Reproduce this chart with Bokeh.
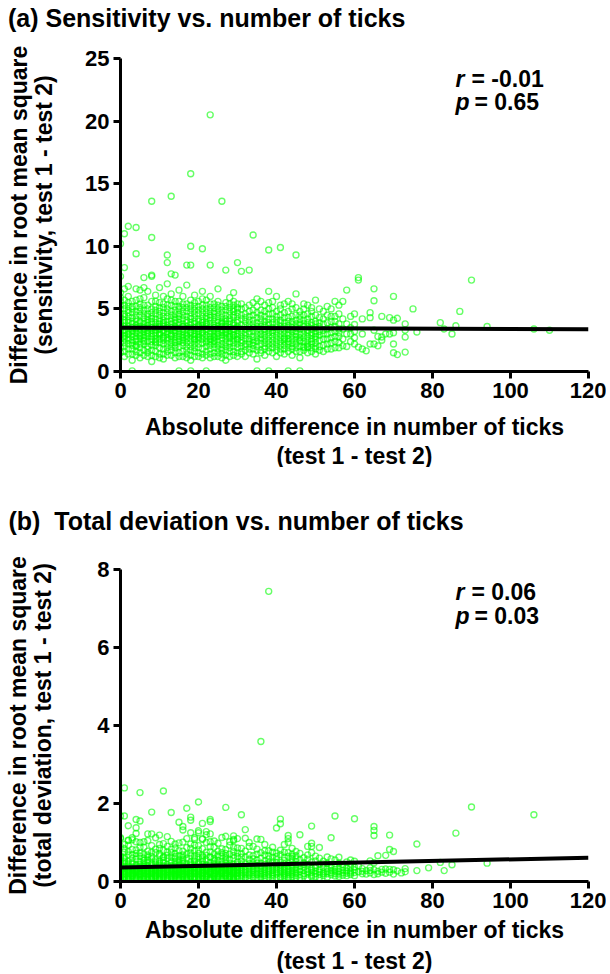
from bokeh.plotting import figure
from bokeh.models import Range1d, FixedTicker, Label, ColumnDataSource, Title, Div
from bokeh.layouts import column
from bokeh.embed import file_html
from bokeh.resources import INLINE

FONT = "Liberation Sans"

# ---------------- data ----------------
x_ticks = [0, 20, 40, 60, 80, 100, 120]
a_y_ticks = [0, 5, 10, 15, 20, 25]
b_y_ticks = [0, 2, 4, 6, 8]

# panel (a): (x, [y values at that x])
a_cols = [
    (0, [1.5, 2.3, 2.9, 3.4, 3.8, 4.3, 5.0, 5.6, 6.3, 7.6, 10.2]),
    (1, [1.2, 2.0, 2.6, 3.1, 3.6, 4.1, 4.6, 5.3, 6.6, 2.9, 11.0, 8.3]),
    (2, [1.4, 2.2, 2.7, 3.3, 3.9, 4.4, 4.9, 5.5, 6.8, 3.0, 11.6]),
    (3, [0.9, 1.8, 2.5, 3.0, 3.5, 4.0, 4.7, 5.2, 3.2, 2.1, 0.05]),
    (4, [1.6, 2.4, 2.8, 3.4, 3.7, 4.2, 4.8, 5.7, 6.6, 2.0, 11.5, 9.4]),
    (5, [1.1, 1.9, 2.6, 3.1, 3.6, 4.5, 5.1, 5.4, 3.9, 2.9]),
    (6, [1.3, 2.2, 2.7, 3.2, 3.8, 4.3, 4.9, 5.9, 3.5, 2.5, 7.5]),
    (7, [1.5, 2.0, 2.8, 3.3, 3.7, 4.1, 4.6, 5.3, 6.4, 3.0]),
    (8, [0.8, 1.7, 2.4, 3.0, 3.5, 4.0, 4.4, 5.0, 7.6, 2.8, 13.6, 10.7, 7.7]),
    (9, [1.2, 2.1, 2.6, 3.3, 3.9, 4.6, 5.2, 6.1, 3.6, 2.4]),
    (10, [1.4, 2.3, 2.9, 3.4, 3.8, 4.2, 4.8, 5.5, 6.7, 3.1]),
    (11, [1.0, 1.8, 2.5, 3.1, 3.6, 4.1, 4.7, 5.1, 2.8, 3.9]),
    (12, [1.6, 2.2, 2.7, 3.2, 3.7, 4.4, 5.0, 5.8, 7.0, 3.4, 9.3, 8.7]),
    (13, [1.3, 2.0, 2.6, 3.0, 3.5, 4.0, 4.5, 5.3, 6.2, 2.9, 14.0, 7.8]),
    (14, [1.1, 1.9, 2.5, 3.3, 3.9, 4.3, 4.9, 5.6, 3.6, 2.3, 7.7]),
    (15, [1.5, 2.4, 2.8, 3.2, 3.7, 4.2, 4.6, 5.2, 6.5, 3.0, 0.05]),
    (16, [1.2, 2.1, 2.7, 3.4, 3.8, 4.5, 5.1, 6.0, 2.5, 3.6]),
    (17, [1.4, 2.0, 2.6, 3.1, 3.6, 4.1, 4.8, 5.4, 6.9, 2.9, 8.5]),
    (18, [0.9, 1.7, 2.3, 2.9, 3.5, 3.9, 4.4, 5.0, 5.7, 3.2, 15.8, 10.0, 8.5, 0.05]),
    (19, [1.6, 2.2, 2.8, 3.3, 3.8, 4.3, 4.9, 5.5, 6.1, 2.6]),
    (20, [1.2, 1.9, 2.5, 3.0, 3.4, 4.0, 4.6, 5.2, 3.7, 2.8]),
    (21, [1.4, 2.3, 2.9, 3.5, 3.9, 4.4, 5.0, 5.8, 6.4, 3.1, 9.8]),
    (22, [1.3, 2.0, 2.6, 3.2, 3.6, 4.2, 4.7, 5.3, 2.4, 3.8, 0.05]),
    (23, [1.1, 1.8, 2.4, 3.0, 3.5, 4.1, 4.5, 5.1, 6.0, 2.8, 20.5, 8.5]),
    (24, [1.5, 2.2, 2.7, 3.3, 3.7, 4.3, 4.8, 5.4, 3.0, 2.5]),
    (25, [1.2, 2.1, 2.8, 3.4, 3.9, 4.4, 5.0, 5.6, 6.6, 3.1]),
    (26, [1.4, 1.9, 2.5, 3.1, 3.6, 4.0, 4.6, 5.2, 2.9, 3.8, 13.6]),
    (27, [0.9, 1.7, 2.3, 2.9, 3.4, 3.8, 4.2, 4.9, 5.5, 3.2, 8.1]),
    (28, [1.6, 2.4, 3.0, 3.5, 4.0, 4.5, 5.1, 5.9, 2.7, 3.3]),
    (29, [1.3, 2.0, 2.6, 3.2, 3.7, 4.3, 4.8, 5.3, 6.3, 2.9]),
    (30, [1.5, 2.2, 2.8, 3.3, 3.9, 4.4, 5.0, 5.4, 3.6, 2.5, 8.7]),
    (31, [1.6, 2.5, 3.1, 3.7, 4.2, 5.0, 8.0]),
    (32, [1.2, 2.2, 2.9, 3.4, 4.0, 4.6]),
    (33, [1.8, 2.6, 3.2, 3.8, 4.4, 5.3, 8.1]),
    (34, [1.4, 2.1, 2.8, 3.5, 4.1, 4.9, 10.9]),
    (35, [1.0, 2.4, 3.0, 3.6, 4.3, 5.2, 0.05]),
    (36, [1.7, 2.7, 3.3, 3.9, 4.5, 5.6]),
    (37, [1.3, 2.3, 2.9, 3.4, 4.0, 4.8]),
    (38, [1.9, 2.5, 3.1, 3.7, 4.2, 5.5, 6.4, 9.7, 0.05]),
    (39, [1.5, 2.2, 2.8, 3.5, 4.6, 5.1]),
    (40, [1.2, 2.6, 3.2, 3.8, 4.4, 6.0]),
    (41, [1.8, 2.4, 3.0, 3.6, 4.1, 5.3, 9.9]),
    (42, [1.4, 2.1, 2.7, 3.3, 3.9, 4.7]),
    (43, [1.9, 2.6, 3.1, 3.7, 4.3, 5.6, 0.05]),
    (44, [1.3, 2.3, 2.9, 3.5, 4.0, 5.0]),
    (45, [1.6, 2.5, 3.2, 3.8, 4.5, 6.2, 9.3]),
    (46, [1.1, 2.0, 2.7, 3.4, 4.2, 4.8, 0.05]),
    (47, [1.7, 2.4, 3.0, 3.6, 4.1, 5.4]),
    (48, [1.5, 2.2, 2.8, 3.3, 3.9, 4.6]),
    (49, [1.9, 2.6, 3.1, 3.7, 4.4, 5.1]),
    (50, [1.4, 2.3, 3.0, 3.5, 4.0, 5.7]),
    (51, [2.0, 2.9, 3.6, 4.3]),
    (52, [1.6, 2.6, 3.3, 4.8]),
    (53, [2.2, 3.0, 3.9, 5.2]),
    (54, [1.8, 2.7, 3.5, 4.4]),
    (55, [2.4, 3.2, 4.0, 5.6]),
    (56, [1.9, 2.8, 3.4, 4.6]),
    (57, [5.6, 2.05]),
    (58, [6.5]),
    (59, [3.0, 2.4]),
    (60, [3.75, 2.2]),
    (61, [7.5, 7.3, 1.95]),
    (62, [4.2, 3.0, 1.8]),
    (63, [1.65]),
    (64, [4.7, 4.3, 2.2]),
    (65, [6.6, 5.65, 3.3, 2.2]),
    (66, [2.8, 2.05]),
    (67, [4.4, 2.75, 2.5]),
    (68, [3.0]),
    (69, [4.3, 3.0]),
    (70, [6.0, 4.1, 3.1, 2.2, 1.5]),
    (71, [4.25, 1.35]),
    (73, [3.8, 3.3, 2.75, 1.55]),
    (75, [5.0]),
    (76, [3.15]),
    (82, [3.9]),
    (83, [3.4]),
    (85, [3.0]),
    (86, [3.65]),
    (87, [4.8]),
    (90, [7.3]),
    (94, [3.6]),
    (106, [3.4]),
    (110, [3.3]),
]

# panel (a), extra points of the dense cloud
a_cols_extra = [
    (0, [1.9, 2.6, 3.1, 3.6, 4.0, 4.6, 5.3, 5.9]),
    (1, [1.6, 2.3, 2.8, 3.3, 3.9, 4.4, 5.0, 5.7]),
    (2, [1.8, 2.5, 3.0, 3.6, 4.1, 4.7, 5.2, 6.0]),
    (3, [1.4, 2.3, 2.8, 3.3, 3.8, 4.3, 5.0, 5.6]),
    (4, [1.3, 2.1, 2.6, 3.1, 3.5, 4.0, 4.5, 5.2]),
    (5, [1.5, 2.2, 2.8, 3.4, 4.0, 4.8, 5.8, 6.5]),
    (6, [1.7, 2.4, 2.9, 3.4, 4.0, 4.6, 5.3, 6.7]),
    (7, [1.2, 1.8, 2.4, 3.1, 3.5, 3.9, 4.4, 5.0]),
    (8, [1.3, 2.1, 2.6, 3.3, 3.8, 4.2, 4.7, 5.6]),
    (9, [1.6, 2.3, 2.9, 3.1, 3.5, 4.2, 4.9, 5.6]),
    (10, [1.1, 1.9, 2.6, 3.0, 3.6, 4.0, 4.5, 5.1]),
    (11, [1.4, 2.2, 2.7, 3.3, 3.8, 4.4, 5.4, 6.0]),
    (12, [1.3, 1.9, 2.5, 3.0, 3.5, 4.0, 4.7, 5.3]),
    (13, [1.7, 2.3, 2.8, 3.3, 3.8, 4.2, 4.8, 5.7]),
    (14, [1.5, 2.1, 2.8, 3.1, 3.5, 4.1, 4.6, 5.2]),
    (15, [1.2, 2.0, 2.6, 3.4, 3.9, 4.4, 5.0, 5.6]),
    (16, [1.6, 2.3, 2.9, 3.2, 3.6, 4.2, 4.8, 5.4]),
    (17, [1.1, 1.7, 2.3, 2.8, 3.4, 3.9, 4.4, 5.1]),
    (18, [1.3, 2.0, 2.6, 3.1, 3.7, 4.2, 4.7, 5.3]),
    (19, [1.2, 1.9, 2.5, 3.0, 3.5, 4.0, 4.6, 5.2]),
    (20, [1.5, 2.2, 2.7, 3.2, 3.6, 4.2, 4.9, 5.6]),
    (21, [1.1, 1.8, 2.6, 3.2, 3.7, 4.1, 4.7, 5.3]),
    (22, [1.6, 2.3, 2.9, 3.4, 3.9, 4.4, 5.0, 5.7]),
    (23, [1.4, 2.1, 2.6, 3.2, 3.8, 4.3, 4.8, 5.4]),
    (24, [1.2, 1.9, 2.4, 2.8, 3.5, 4.0, 4.6, 5.1]),
    (25, [1.5, 1.8, 2.4, 3.0, 3.6, 4.1, 4.7, 5.3]),
    (26, [1.1, 1.7, 2.2, 2.7, 3.3, 3.9, 4.3, 4.9]),
    (27, [1.3, 2.0, 2.6, 3.1, 3.6, 4.0, 4.5, 5.2]),
    (28, [1.2, 1.9, 2.2, 2.8, 3.8, 4.2, 4.8, 5.4]),
    (29, [1.6, 2.3, 2.9, 3.4, 3.9, 4.5, 5.0, 5.6]),
    (30, [1.2, 1.9, 2.6, 3.0, 3.5, 4.1, 4.7, 5.1]),
    (31, [2.0, 2.8, 3.4]),
    (32, [1.7, 2.6, 3.7]),
    (33, [2.2, 3.0, 3.5]),
    (34, [1.8, 2.5, 3.2]),
    (35, [2.0, 2.7, 3.3]),
    (36, [2.2, 3.0, 3.6]),
    (37, [1.8, 2.6, 3.7]),
    (38, [2.2, 2.8, 3.4]),
    (39, [1.9, 3.1, 3.9]),
    (40, [2.0, 2.9, 3.5]),
    (41, [2.1, 2.7, 3.3]),
    (42, [1.8, 2.4, 3.0]),
    (43, [2.2, 2.9, 3.4]),
    (44, [2.0, 2.6, 3.2]),
    (45, [1.9, 2.8, 3.5]),
    (46, [2.4, 3.0, 3.7]),
    (47, [2.0, 2.7, 3.3]),
    (48, [1.9, 2.5, 3.6]),
    (49, [2.2, 2.9, 3.4]),
    (50, [2.0, 2.6, 3.2]),
]

# panel (a), more points where the cloud thins out (x 31-60)
a_cols_extra2 = [
    (31, [1.4, 2.3, 4.5, 5.4]),
    (32, [2.0, 3.1, 4.3, 5.1]),
    (33, [1.5, 2.4, 4.1, 4.8]),
    (34, [2.3, 3.8, 4.5, 5.5]),
    (35, [1.7, 3.9, 4.7, 5.8]),
    (36, [1.5, 2.5, 4.2, 4.9]),
    (37, [2.0, 3.2, 4.4, 5.3]),
    (38, [1.6, 3.9, 4.6, 5.0]),
    (39, [2.5, 3.3, 4.2, 5.6]),
    (40, [1.7, 2.3, 4.1, 4.8]),
    (41, [1.5, 3.9, 4.5, 5.0]),
    (42, [2.6, 3.6, 4.3, 5.4]),
    (43, [1.6, 2.4, 4.0, 4.8]),
    (44, [1.8, 3.8, 4.4, 5.4]),
    (45, [2.2, 3.0, 4.1, 5.1]),
    (46, [1.6, 2.5, 3.9, 4.5]),
    (47, [1.9, 3.8, 4.5, 5.0]),
    (48, [2.0, 3.1, 4.2, 5.3]),
    (49, [1.6, 2.4, 3.9, 4.8]),
    (50, [1.8, 2.8, 3.8, 4.5]),
    (51, [1.7, 2.5, 3.2, 3.9, 5.0]),
    (52, [2.1, 3.0, 3.8, 4.2]),
    (53, [1.8, 2.6, 3.4, 4.5]),
    (54, [2.3, 3.1, 4.0, 5.0]),
    (55, [1.9, 2.8, 3.6, 4.4]),
    (56, [2.3, 3.1, 3.8, 5.3]),
    (57, [2.6, 3.4, 4.2]),
    (58, [2.0, 3.0, 3.8]),
    (59, [3.5, 4.4]),
    (60, [2.7, 3.2, 4.6]),
]

# panel (b): (x, [y values at that x])
b_cols = [
    (0, [0.08, 0.15, 0.22, 0.28, 0.35, 0.42, 0.55, 0.62, 1.12, 0.0, 1.68, 1.1]),
    (1, [0.10, 0.18, 0.24, 0.31, 0.38, 0.47, 0.58, 0.75, 0.95, 0.20, 2.4, 1.68]),
    (2, [0.07, 0.14, 0.21, 0.27, 0.33, 0.40, 0.52, 0.68, 1.05, 0.30, 1.43, 1.06]),
    (3, [0.12, 0.19, 0.25, 0.30, 0.37, 0.45, 0.60, 0.82, 0.22, 0.16, 1.07]),
    (4, [0.09, 0.16, 0.23, 0.29, 0.36, 0.44, 0.57, 0.72, 1.38, 0.26, 1.59, 1.02, 1.23]),
    (5, [0.11, 0.17, 0.22, 0.32, 0.39, 0.50, 0.65, 0.88, 0.27, 0.20, 2.28, 1.55]),
    (6, [0.08, 0.15, 0.24, 0.30, 0.35, 0.43, 0.54, 0.70, 1.02, 0.19]),
    (7, [0.10, 0.18, 0.26, 0.33, 0.41, 0.49, 0.62, 0.78, 0.23, 0.28, 1.22]),
    (8, [0.07, 0.14, 0.21, 0.28, 0.34, 0.46, 0.58, 0.92, 1.22, 0.25, 1.78]),
    (9, [0.12, 0.20, 0.25, 0.31, 0.38, 0.45, 0.56, 0.74, 0.17, 0.29]),
    (10, [0.09, 0.16, 0.23, 0.29, 0.36, 0.42, 0.53, 0.66, 0.85, 0.21, 1.19]),
    (11, [0.11, 0.17, 0.24, 0.32, 0.40, 0.48, 0.61, 0.97, 0.26, 0.19, 2.32]),
    (12, [0.08, 0.15, 0.22, 0.27, 0.35, 0.44, 0.59, 0.76, 1.15, 0.30]),
    (13, [0.10, 0.19, 0.25, 0.30, 0.37, 0.47, 0.63, 0.83, 0.22, 0.16, 1.77]),
    (14, [0.13, 0.18, 0.23, 0.33, 0.39, 0.51, 0.64, 0.71, 0.96, 0.27]),
    (15, [0.09, 0.16, 0.21, 0.28, 0.34, 0.43, 0.55, 0.79, 0.24, 0.31, 1.52]),
    (16, [0.11, 0.20, 0.26, 0.31, 0.38, 0.46, 0.57, 0.68, 1.01, 0.18, 1.41, 1.32]),
    (17, [0.08, 0.14, 0.22, 0.29, 0.36, 0.45, 0.60, 0.87, 0.25, 0.33, 1.88]),
    (18, [0.12, 0.17, 0.24, 0.32, 0.41, 0.50, 0.66, 0.73, 0.21, 0.28, 1.65, 1.57, 1.25]),
    (19, [0.10, 0.19, 0.27, 0.34, 0.40, 0.48, 0.58, 0.94, 1.12, 0.23, 1.08]),
    (20, [0.09, 0.15, 0.23, 0.30, 0.37, 0.44, 0.62, 0.81, 0.26, 0.19, 2.04, 1.30, 1.25]),
    (21, [0.13, 0.18, 0.25, 0.31, 0.39, 0.52, 0.67, 1.08, 0.22, 0.35, 1.49, 1.10]),
    (22, [0.11, 0.16, 0.21, 0.28, 0.35, 0.43, 0.56, 0.75, 1.28, 0.30, 1.20]),
    (23, [0.08, 0.20, 0.26, 0.33, 0.42, 0.49, 0.63, 0.89, 1.02, 0.24, 1.59, 1.54, 1.22]),
    (24, [0.12, 0.17, 0.24, 0.30, 0.38, 0.47, 0.59, 0.70, 0.27, 0.20]),
    (25, [0.10, 0.15, 0.22, 0.29, 0.36, 0.45, 0.54, 0.78, 0.98, 0.32]),
    (26, [0.09, 0.19, 0.25, 0.32, 0.40, 0.51, 0.65, 0.84, 0.23, 0.28]),
    (27, [0.13, 0.18, 0.27, 0.34, 0.41, 0.48, 0.61, 0.72, 1.16, 0.21, 1.90]),
    (28, [0.11, 0.16, 0.23, 0.31, 0.37, 0.46, 0.57, 0.93, 0.26, 0.30]),
    (29, [0.08, 0.14, 0.21, 0.28, 0.35, 0.44, 0.60, 0.77, 1.05, 0.24, 1.17, 1.08]),
    (30, [0.12, 0.20, 0.26, 0.33, 0.39, 0.50, 0.64, 0.86, 0.22, 0.29]),
    (31, [0.14, 0.25, 0.36, 0.52, 0.71, 1.71]),
    (32, [0.11, 0.22, 0.31, 0.45, 0.63, 1.33, 1.11]),
    (33, [0.16, 0.27, 0.39, 0.57, 0.90]),
    (34, [0.13, 0.24, 0.34, 0.48, 0.66, 0.90]),
    (35, [0.18, 0.29, 0.41, 0.55, 1.09]),
    (36, [0.12, 0.21, 0.33, 0.47, 0.74, 3.59, 1.08]),
    (37, [0.15, 0.26, 0.37, 0.53, 0.68]),
    (38, [0.17, 0.28, 0.40, 0.58, 0.79, 7.44]),
    (39, [0.14, 0.23, 0.35, 0.50, 0.62]),
    (40, [0.19, 0.30, 0.42, 0.56, 0.73, 1.37]),
    (41, [0.13, 0.25, 0.36, 0.49, 0.69, 1.60, 1.48]),
    (42, [0.16, 0.27, 0.38, 0.54, 0.75]),
    (43, [0.12, 0.22, 0.32, 0.46, 0.64, 1.18, 1.10, 1.00]),
    (44, [0.18, 0.29, 0.41, 0.59, 0.70]),
    (45, [0.15, 0.24, 0.35, 0.51, 0.66]),
    (46, [0.17, 0.26, 0.39, 0.55, 0.72, 1.20]),
    (47, [0.14, 0.28, 0.37, 0.48, 0.61]),
    (48, [0.19, 0.31, 0.43, 0.57, 0.68, 0.90]),
    (49, [0.16, 0.23, 0.34, 0.50, 0.74, 1.42, 0.98, 0.90]),
    (50, [0.13, 0.27, 0.40, 0.53, 0.65]),
    (51, [0.18, 0.30, 0.44, 0.60, 0.87]),
    (52, [0.15, 0.25, 0.36, 0.52]),
    (53, [0.20, 0.32, 0.46, 0.63]),
    (54, [0.17, 0.28, 0.41, 0.58, 1.12]),
    (55, [0.14, 0.26, 0.38, 0.55, 1.68]),
    (56, [0.19, 0.33, 0.47, 0.62]),
    (57, [0.16, 0.29, 0.43]),
    (58, [0.21, 0.35, 0.50]),
    (59, [0.18, 0.27, 0.45, 0.55]),
    (60, [0.23, 0.37, 0.52, 1.61]),
    (61, [0.25, 0.40]),
    (62, [0.20, 0.33]),
    (63, [0.28]),
    (64, [0.22, 0.35, 0.53]),
    (65, [0.18, 0.30, 0.48, 1.41, 1.31, 1.18]),
    (66, [0.26, 0.66]),
    (68, [0.21, 0.32, 0.67]),
    (69, [0.24, 1.19, 0.82]),
    (70, [0.19, 0.30, 0.77]),
    (71, [0.27]),
    (72, [0.22]),
    (73, [0.25, 0.33]),
    (76, [0.28, 0.96]),
    (79, [0.35]),
    (82, [0.49]),
    (83, [0.28]),
    (85, [0.43]),
    (86, [1.24]),
    (90, [1.91]),
    (94, [0.47]),
    (106, [1.71]),
]

# panel (b), extra points of the dense cloud
b_cols_extra = [
    (0, [0.05, 0.12, 0.18, 0.25, 0.31, 0.48]),
    (1, [0.06, 0.13, 0.21, 0.27, 0.34, 0.52]),
    (2, [0.05, 0.11, 0.17, 0.24, 0.36, 0.45]),
    (3, [0.07, 0.14, 0.20, 0.27, 0.33, 0.50]),
    (4, [0.06, 0.12, 0.19, 0.26, 0.32, 0.40]),
    (5, [0.05, 0.14, 0.19, 0.25, 0.35, 0.44]),
    (6, [0.06, 0.12, 0.20, 0.27, 0.38, 0.48]),
    (7, [0.05, 0.13, 0.21, 0.30, 0.37, 0.55]),
    (8, [0.06, 0.11, 0.18, 0.24, 0.31, 0.40]),
    (9, [0.07, 0.15, 0.22, 0.27, 0.34, 0.50]),
    (10, [0.05, 0.12, 0.19, 0.26, 0.32, 0.47]),
    (11, [0.07, 0.14, 0.21, 0.28, 0.36, 0.54]),
    (12, [0.05, 0.11, 0.18, 0.25, 0.31, 0.39]),
    (13, [0.06, 0.13, 0.28, 0.33, 0.41, 0.52]),
    (14, [0.07, 0.15, 0.20, 0.26, 0.30, 0.45]),
    (15, [0.05, 0.12, 0.18, 0.25, 0.38, 0.48]),
    (16, [0.06, 0.14, 0.22, 0.28, 0.34, 0.52]),
    (17, [0.05, 0.11, 0.18, 0.26, 0.32, 0.40]),
    (18, [0.07, 0.14, 0.20, 0.26, 0.36, 0.45]),
    (19, [0.06, 0.13, 0.21, 0.30, 0.37, 0.53]),
    (20, [0.05, 0.12, 0.19, 0.27, 0.33, 0.49]),
    (21, [0.07, 0.15, 0.21, 0.28, 0.44, 0.58]),
    (22, [0.06, 0.13, 0.19, 0.25, 0.32, 0.39]),
    (23, [0.05, 0.11, 0.17, 0.23, 0.29, 0.37]),
    (24, [0.07, 0.14, 0.21, 0.34, 0.42, 0.53]),
    (25, [0.06, 0.12, 0.19, 0.26, 0.33, 0.40]),
    (26, [0.05, 0.14, 0.21, 0.29, 0.36, 0.45]),
    (27, [0.07, 0.15, 0.23, 0.30, 0.37, 0.55]),
    (28, [0.06, 0.13, 0.20, 0.27, 0.34, 0.41]),
    (29, [0.05, 0.11, 0.18, 0.25, 0.31, 0.39]),
    (30, [0.07, 0.15, 0.23, 0.30, 0.36, 0.45]),
    (31, [0.08, 0.19, 0.30, 0.43]),
    (32, [0.07, 0.17, 0.27, 0.38]),
    (33, [0.09, 0.21, 0.33, 0.46]),
    (34, [0.08, 0.18, 0.29, 0.40]),
    (35, [0.10, 0.22, 0.34, 0.47]),
    (36, [0.07, 0.17, 0.27, 0.39]),
    (37, [0.09, 0.20, 0.31, 0.44]),
    (38, [0.11, 0.22, 0.33, 0.48]),
    (39, [0.08, 0.18, 0.29, 0.41]),
    (40, [0.10, 0.24, 0.36, 0.48]),
    (41, [0.09, 0.19, 0.30, 0.42]),
    (42, [0.11, 0.21, 0.32, 0.45]),
    (43, [0.08, 0.17, 0.27, 0.39]),
    (44, [0.12, 0.23, 0.35, 0.50]),
    (45, [0.10, 0.20, 0.30, 0.43]),
]

# panel (b), scattered points just above the cloud and the thinning tail
b_cols_extra2 = [
    (0, [0.66, 0.90]), (1, [0.84, 0.62]), (2, [0.77, 0.93]), (3, [0.69, 1.12]),
    (4, [0.81, 0.65]), (5, [0.73, 1.00]), (6, [0.88, 0.60]), (7, [0.68, 1.05]),
    (8, [0.75, 0.64]), (9, [0.83, 1.12]), (10, [0.71, 0.95]), (11, [0.80, 0.63]),
    (12, [0.67, 0.90]), (13, [0.74, 1.03]), (14, [0.86, 0.60]), (15, [0.66, 0.99]),
    (16, [0.78, 0.62]), (17, [0.70, 1.10]), (18, [0.85, 0.96]), (19, [0.66, 0.78]),
    (20, [0.72, 0.92]), (21, [0.84, 0.63]), (22, [0.67, 1.00]), (23, [0.76, 0.62]),
    (24, [0.88, 1.04]), (25, [0.68, 0.64]), (26, [0.74, 1.13]), (27, [0.82, 0.66]),
    (28, [0.70, 1.02]), (29, [0.88, 0.67]), (30, [0.73, 1.10]), (31, [0.62, 0.85]),
    (32, [0.78]), (33, [0.68, 1.00]), (34, [0.58]), (35, [0.70, 0.83]),
    (36, [0.60]), (37, [0.79, 0.95]), (38, [0.66]), (39, [0.75, 0.88]),
    (40, [0.64]), (41, [0.80]), (42, [0.62, 0.95]), (43, [0.74]),
    (44, [0.65, 0.85]), (45, [0.58, 0.77]), (46, [0.10, 0.31]), (47, [0.20, 0.44]),
    (48, [0.09, 0.25]), (49, [0.12, 0.29]), (50, [0.20, 0.35]), (51, [0.10, 0.24]),
    (52, [0.20, 0.45]), (53, [0.11, 0.25]), (54, [0.22, 0.35]), (55, [0.20, 0.31]),
    (56, [0.13, 0.25]), (57, [0.22, 0.36]), (58, [0.15, 0.27]), (59, [0.22, 0.36]),
    (60, [0.15, 0.30]), (62, [0.26]), (63, [0.19]), (64, [0.28]),
    (66, [0.20]), (67, [0.24, 0.31]), (69, [0.31]),
]

fit_x = [0, 120]
a_fit_y = [3.5, 3.38]
b_fit_y = [0.36, 0.61]

a_stats = ["-0.01", "0.65"]
b_stats = ["0.06", "0.03"]

# ---------------- layout constants (pixels) ----------------
FIG_W = 606
LEFT = 120
FRAME_W = 468
FRAME_H = 313
TXT = "23px"
TITLE_TXT = "25px"
TICK_TXT = "22px"


def flatten(*groups):
    xs, ys = [], []
    for cols in groups:
        for x, vals in cols:
            for v in vals:
                xs.append(x)
                ys.append(v)
    return xs, ys


def bold_title(text, standoff):
    return Title(text=text, align="center", standoff=standoff, text_font=FONT,
                 text_font_style="bold", text_font_size=TXT, text_color="black")


def panel(groups, fit_y, ymax, yticks, height, top, title, title_standoff,
          ylab2, stats, stat_rows, ylab_standoff, xlab_standoff, xl2_standoff):
    bottom = height - top - FRAME_H
    p = figure(width=FIG_W, height=height,
               x_range=Range1d(0, 120), y_range=Range1d(0, ymax),
               output_backend="svg", toolbar_location=None,
               min_border_left=LEFT, min_border_right=FIG_W - LEFT - FRAME_W,
               min_border_top=top, min_border_bottom=bottom)
    p.outline_line_color = None
    p.xgrid.visible = False
    p.ygrid.visible = False
    p.background_fill_color = "white"

    p.title.text = title
    p.title.align = "left"
    p.title.offset = -112
    p.title.standoff = title_standoff
    p.title.text_font = FONT
    p.title.text_font_style = "bold"
    p.title.text_font_size = TITLE_TXT
    p.title.text_color = "black"

    xs, ys = flatten(*groups)
    src = ColumnDataSource(dict(x=xs, y=ys))
    p.scatter("x", "y", source=src, marker="circle", size=6,
              fill_color=None, line_color="#00ff00", line_alpha=0.6,
              line_width=1.4)
    p.line(fit_x, fit_y, line_width=4, line_color="black")

    p.xaxis.ticker = FixedTicker(ticks=x_ticks)
    p.yaxis.ticker = FixedTicker(ticks=yticks)
    for ax in (p.xaxis, p.yaxis):
        ax.axis_line_width = 3
        ax.axis_line_color = "black"
        ax.major_tick_line_width = 3
        ax.major_tick_line_color = "black"
        ax.major_tick_out = 7
        ax.major_tick_in = 0
        ax.minor_tick_line_color = None
        ax.major_label_text_font = FONT
        ax.major_label_text_font_style = "bold"
        ax.major_label_text_font_size = TICK_TXT
        ax.major_label_text_color = "black"
        ax.major_label_standoff = 4
        ax.axis_label_text_font = FONT
        ax.axis_label_text_font_style = "bold"
        ax.axis_label_text_font_size = TXT
        ax.axis_label_text_color = "black"

    p.xaxis.axis_label = "Absolute difference in number of ticks"
    p.xaxis.axis_label_standoff = xlab_standoff
    p.yaxis.axis_label = ylab2
    p.yaxis.axis_label_standoff = ylab_standoff
    p.add_layout(bold_title("Difference in root mean square", -6), "left")
    p.add_layout(bold_title("(test 1 - test 2)", xl2_standoff), "below")

    ppx = FRAME_W / 120.0
    ppy = FRAME_H / ymax

    def lab(xpx, ypx, text, style):
        p.add_layout(Label(x=xpx / ppx, y=ymax - ypx / ppy, text=text,
                           text_font=FONT, text_font_style=style,
                           text_font_size=TXT, text_color="black",
                           text_baseline="middle", text_align="left"))

    lab(335, stat_rows[0], "r", "bold italic")
    lab(351, stat_rows[0], "= " + stats[0], "bold")
    lab(335, stat_rows[1], "p", "bold italic")
    lab(354, stat_rows[1], "= " + stats[1], "bold")
    return p


head = Div(text="(a) Sensitivity vs. number of ticks", width=600, height=36,
           margin=0,
           styles={"font-family": FONT, "font-weight": "bold",
                   "font-size": TITLE_TXT, "line-height": "36px",
                   "color": "black", "padding-left": "8px",
                   "white-space": "nowrap"})

pa = panel((a_cols, a_cols_extra, a_cols_extra2), a_fit_y, 25, a_y_ticks,
           height=431, top=22, title="", title_standoff=0,
           ylab2="(sensitivity, test 1 - test 2)", stats=a_stats,
           stat_rows=(20, 43), ylab_standoff=25, xlab_standoff=13,
           xl2_standoff=-4)
pb = panel((b_cols, b_cols_extra, b_cols_extra2), b_fit_y, 8, b_y_ticks,
           height=506, top=102,
           title="(b)\u00a0 Total deviation vs. number of ticks", title_standoff=69,
           ylab2="(total deviation, test 1 - test 2)", stats=b_stats,
           stat_rows=(23, 47), ylab_standoff=38, xlab_standoff=6,
           xl2_standoff=0)

layout = column(head, pa, pb, spacing=0)
open("out.html", "w").write(file_html(layout, INLINE))
